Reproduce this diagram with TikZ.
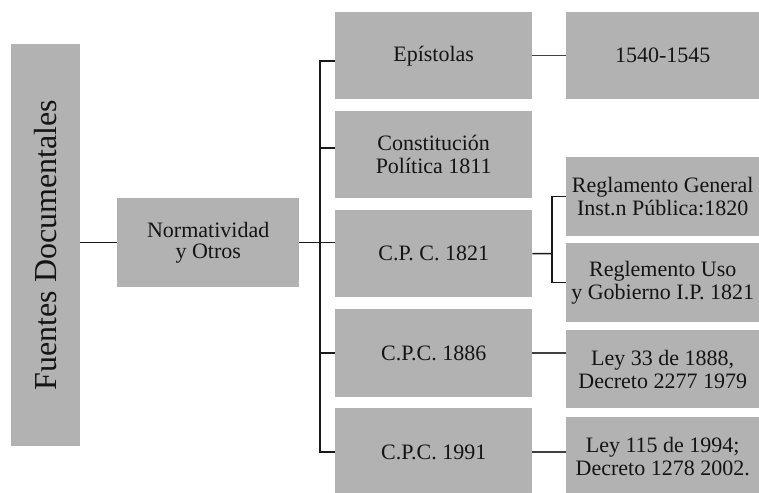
\documentclass[tikz,border=0pt]{standalone}
\usepackage{fontspec}
\setmainfont{Liberation Serif}
\definecolor{boxfill}{RGB}{178,178,178}
\definecolor{txt}{RGB}{20,20,20}
\definecolor{lnk}{RGB}{64,64,64}
\begin{document}
\begin{tikzpicture}[x=1pt,y=-1pt,
  box/.style={fill=boxfill, inner sep=0pt, align=center, text=txt,
    font=\fontsize{22}{23}\selectfont, anchor=north west},
  conn/.style={draw=black!90, line width=1.5pt},
  connr/.style={draw=lnk, line width=1.5pt}]
\useasboundingbox (0,0) rectangle (759,492);
\clip (0,0) rectangle (759,492);
% left column
\node[box, anchor=center, rotate=90, minimum width=402pt, minimum height=69pt,
  font=\fontsize{32}{34}\selectfont] (fd) at (45.5,245) {Fuentes Documentales};
\node[box, minimum width=182pt, minimum height=89pt,
  font=\fontsize{22}{21}\selectfont] (nor) at (117,198) {Normatividad\\y Otros};
% middle column
\node[box, minimum width=197pt, minimum height=87pt] (ep) at (335,12) {Epístolas};
\node[box, minimum width=197pt, minimum height=87pt] (con) at (335,111) {Constitución\\Política 1811};
\node[box, minimum width=197pt, minimum height=87pt] (c21) at (335,210) {C.P. C. 1821};
\node[box, minimum width=197pt, minimum height=88pt] (c86) at (335,309) {C.P.C. 1886};
\node[box, minimum width=197pt, minimum height=88pt] (c91) at (335,408) {C.P.C. 1991};
% right column
\node[box, minimum width=193pt, minimum height=87pt] (y1540) at (566,12) {1540-1545};
\node[box, minimum width=193pt, minimum height=79pt] (rg) at (566,157) {Reglamento General\\Inst.n Pública:1820};
\node[box, minimum width=193pt, minimum height=79pt] (ru) at (566,243) {Reglemento Uso\\y Gobierno I.P. 1821};
\node[box, minimum width=193pt, minimum height=78pt] (l33) at (566,330) {Ley 33 de 1888,\\Decreto 2277 1979};
\node[box, minimum width=193pt, minimum height=79pt] (l115) at (566,417) {Ley 115 de 1994;\\Decreto 1278 2002.};
% connectors
\coordinate (tk) at (320,242);
\coordinate (br) at (552,253.5);
\draw[conn] (nor.west -| fd.south) -- (nor.west);
\draw[conn] (nor.east) -- (nor.east -| c21.west);
\draw[conn] ([yshift=-5.5pt]ep.west) -| (tk) |- (c91.west);
\draw[conn] ([yshift=6.5pt]con.west) -- ([yshift=6.5pt]con.west -| tk);
\draw[conn] (c86.west) -- (c86.west -| tk);
\draw[connr] (ep.east) -- (y1540.west);
\draw[conn] (c21.east) -- (br);
\draw[conn] (rg.west) -| (br) |- (ru.west);
\draw[connr] (c86.east) -- (c86.east -| l33.west);
\draw[connr] (c91.east) -- (c91.east -| l115.west);
\end{tikzpicture}
\end{document}
